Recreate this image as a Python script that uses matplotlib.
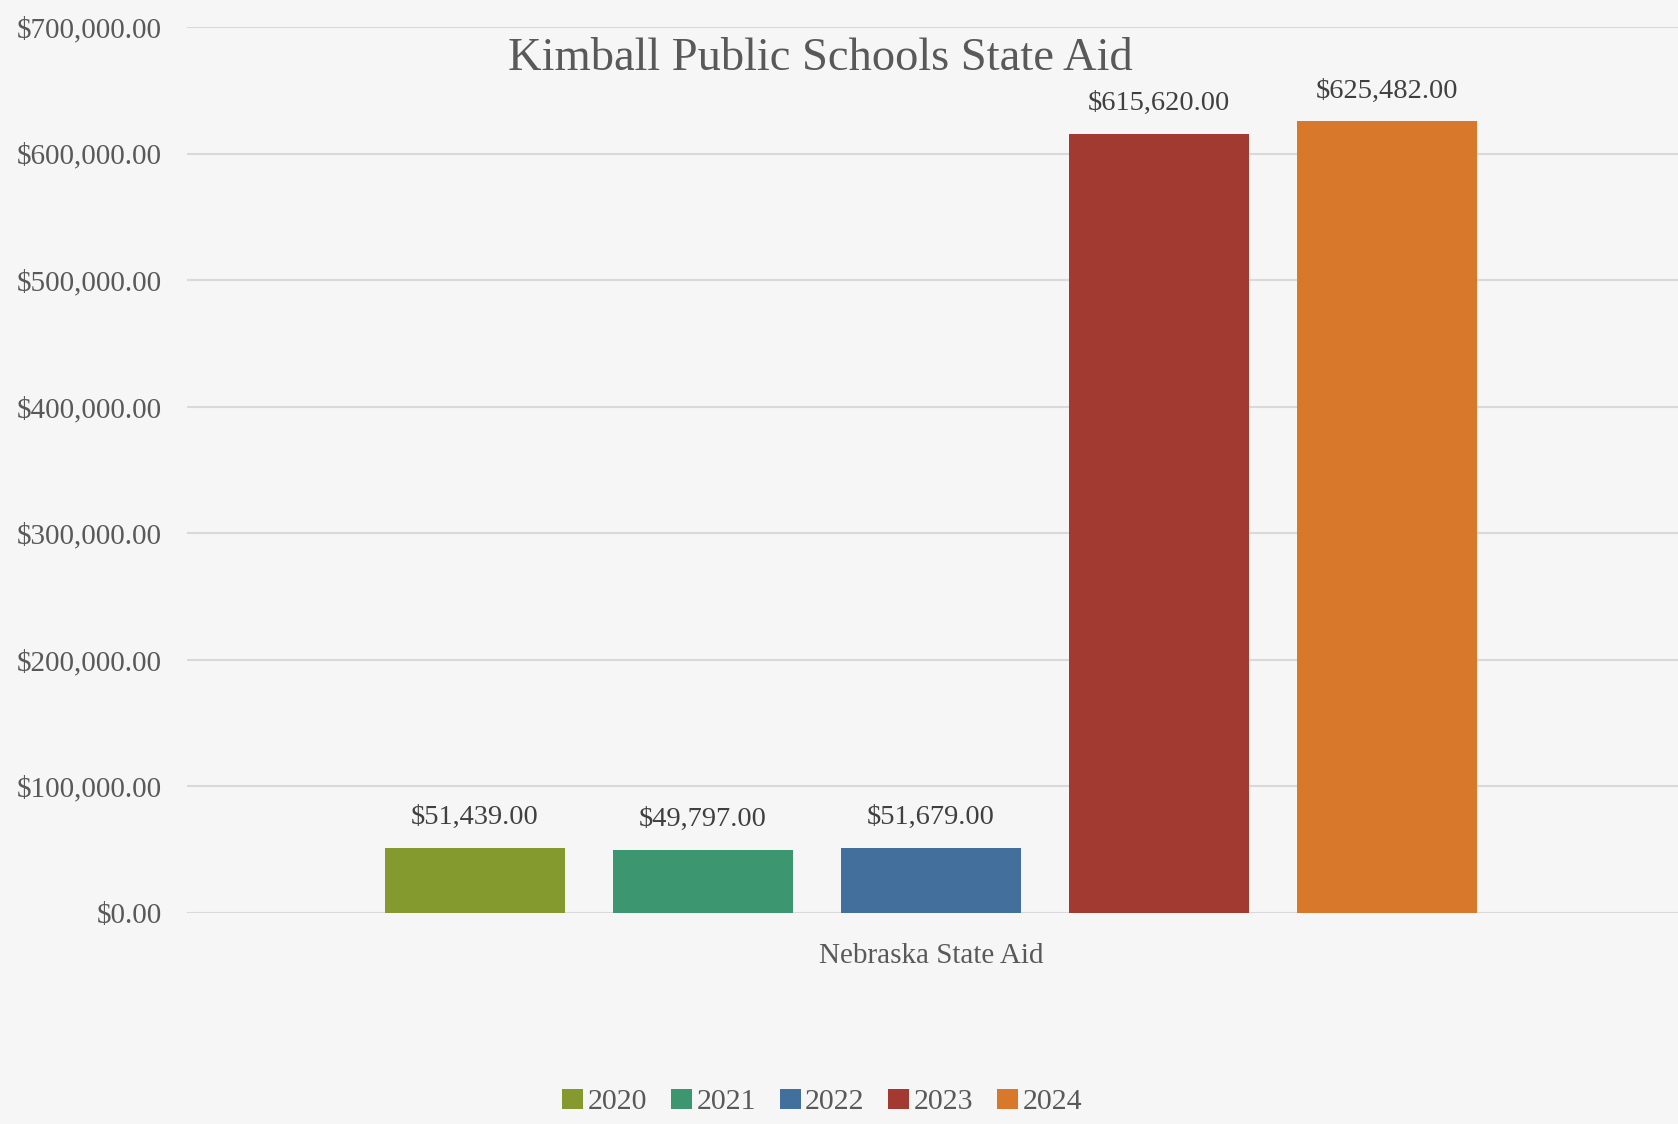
import matplotlib.pyplot as plt
from matplotlib.patches import Patch
from matplotlib.ticker import FuncFormatter

years = ['2020', '2021', '2022', '2023', '2024']
aid = [51439.00, 49797.00, 51679.00, 615620.00, 625482.00]
colors = ['#849a2f', '#3c9670', '#436f9c', '#a23a32', '#d8782a']
category = 'Nebraska State Aid'
title = 'Kimball Public Schools State Aid'

plt.rcParams['font.family'] = ['Liberation Serif', 'DejaVu Serif']
text_color = '#595959'
bg = '#f6f6f6'

fig = plt.figure(figsize=(16.78, 11.24), dpi=100, facecolor=bg)
ax = fig.add_axes([0.1114, 0.1877, 0.8886, 0.7883])
ax.set_facecolor(bg)

x = list(range(len(years)))
bars = ax.bar(x, aid, width=0.79, color=colors, zorder=3)
for b, v in zip(bars, aid):
    ax.text(b.get_x() + b.get_width() / 2, v + 14000, f'${v:,.2f}',
            ha='center', va='bottom', fontsize=20.5, color='#404040')

ax.set_xlim(-1.263, 5.277)
ax.set_ylim(0, 700000)
ax.set_yticks(range(0, 700001, 100000))
ax.yaxis.set_major_formatter(FuncFormatter(lambda v, p: f'${v:,.2f}'))
ax.tick_params(axis='y', length=0, pad=18, labelsize=21, labelcolor=text_color)
ax.set_xticks([])
ax.grid(axis='y', color='#d9d9d9', linewidth=1.5, zorder=0)
for s in ax.spines.values():
    s.set_visible(False)

ax.text(2, -0.048, category, transform=ax.get_xaxis_transform(),
        ha='center', va='center', fontsize=21, color=text_color)
fig.text(0.489, 0.948, title, ha='center', va='center', fontsize=33.5, color=text_color)

handles = [Patch(facecolor=c, edgecolor='none') for c in colors]
fig.legend(handles, years, loc='center', bbox_to_anchor=(0.49, 0.0196), ncol=5,
           frameon=False, fontsize=21.5, labelcolor=text_color, handlelength=0.7,
           handleheight=0.7, handletextpad=0.15, columnspacing=0.8)

fig.savefig('out.png', dpi=100, facecolor=bg)
